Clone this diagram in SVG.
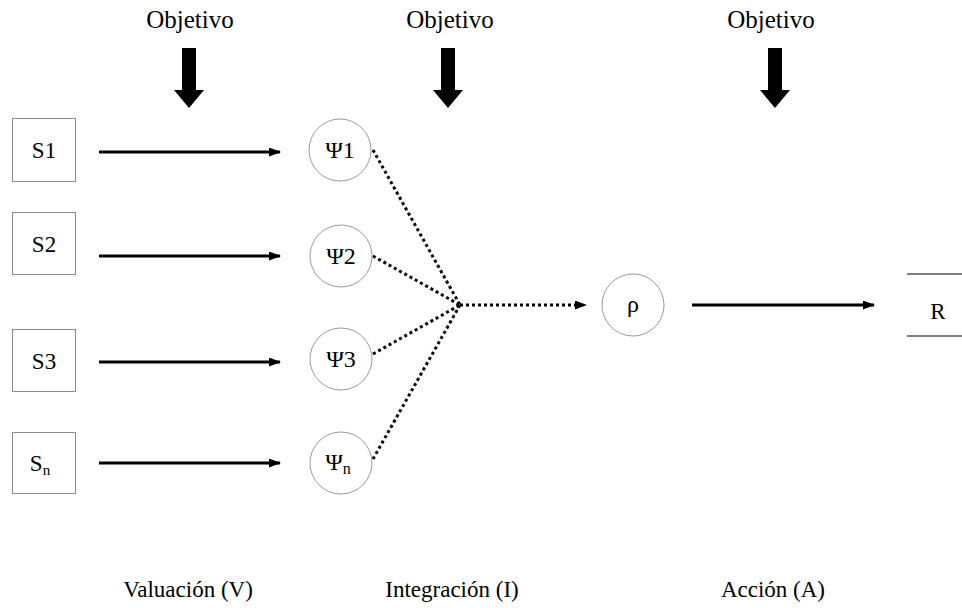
<svg xmlns="http://www.w3.org/2000/svg" width="962" height="608" viewBox="0 0 962 608">
<style>
.box{fill:#fff;stroke:#8a8a8a;stroke-width:1}
.circ{fill:#fff;stroke:#9a9a9a;stroke-width:1}
.solid{stroke:#000;stroke-width:3;fill:none}
.dot{stroke:#000;stroke-width:3;fill:none;stroke-dasharray:3 3}
.big{fill:#000}
</style>
<defs>
<marker id="ah" markerWidth="12" markerHeight="9" refX="11" refY="4.5" orient="auto" markerUnits="userSpaceOnUse">
<path d="M0,0 L12,4.5 L0,9 Z" fill="#000"/>
</marker>
</defs>
<rect width="962" height="608" fill="#fff"/>

<g font-family="'Liberation Serif', 'Times New Roman', serif" font-size="23" fill="#000">
<g id="objetivos" font-size="25">
<text x="190" y="28" text-anchor="middle">Objetivo</text>
<text x="450" y="28" text-anchor="middle">Objetivo</text>
<text x="771" y="28" text-anchor="middle">Objetivo</text>
<path class="big" d="M182,48 H196 V90 H204 L189,108 L174,90 H182 Z"/>
<path class="big" d="M441,48 H455 V90 H463 L448,108 L433,90 H441 Z"/>
<path class="big" d="M768,48 H782 V90 H790 L775,108 L760,90 H768 Z"/>
</g>

<g id="S1"><rect class="box" x="12.5" y="118.5" width="63" height="63"/><text x="44" y="158" text-anchor="middle">S1</text></g>
<g id="S2"><rect class="box" x="12.5" y="212.5" width="63" height="62"/><text x="44" y="252" text-anchor="middle">S2</text></g>
<g id="S3"><rect class="box" x="12.5" y="329.5" width="63" height="62"/><text x="44" y="369" text-anchor="middle">S3</text></g>
<g id="Sn"><rect class="box" x="12.5" y="432.5" width="63" height="61"/><text x="40" y="471" text-anchor="middle">S<tspan font-size="15" dy="4">n</tspan></text></g>

<g id="P1" font-size="24"><circle class="circ" cx="340" cy="150" r="31"/><text x="340" y="158" text-anchor="middle">Ψ1</text></g>
<g id="P2" font-size="24"><circle class="circ" cx="341" cy="256" r="31"/><text x="341" y="264" text-anchor="middle">Ψ2</text></g>
<g id="P3" font-size="24"><circle class="circ" cx="341" cy="359" r="31"/><text x="341" y="367" text-anchor="middle">Ψ3</text></g>
<g id="Pn" font-size="24"><circle class="circ" cx="341" cy="463" r="31"/><text x="338" y="470" text-anchor="middle">Ψ<tspan font-size="16" dy="4">n</tspan></text></g>

<g id="rho" font-size="24"><circle class="circ" cx="633" cy="305" r="31"/><text x="633" y="312" text-anchor="middle">ρ</text></g>

<g id="R"><line x1="907" y1="274" x2="962" y2="274" stroke="#000" stroke-width="1"/><line x1="907" y1="336" x2="962" y2="336" stroke="#000" stroke-width="1"/><text x="938" y="319" text-anchor="middle">R</text></g>

<g id="stages">
<text x="188" y="597" text-anchor="middle">Valuación (V)</text>
<text x="452" y="597" text-anchor="middle">Integración (I)</text>
<text x="773" y="597" text-anchor="middle">Acción (A)</text>
</g>
</g>

<g id="connectors">
<line class="solid" x1="99" y1="152" x2="280" y2="152" marker-end="url(#ah)"/>
<line class="solid" x1="99" y1="256" x2="280" y2="256" marker-end="url(#ah)"/>
<line class="solid" x1="99" y1="362" x2="280" y2="362" marker-end="url(#ah)"/>
<line class="solid" x1="99" y1="463" x2="280" y2="463" marker-end="url(#ah)"/>
<line class="dot" x1="373" y1="150" x2="460" y2="305"/>
<line class="dot" x1="373" y1="256" x2="460" y2="305"/>
<line class="dot" x1="373" y1="354" x2="460" y2="305"/>
<line class="dot" x1="373" y1="459" x2="460" y2="305"/>
<line class="dot" x1="460" y1="305" x2="586" y2="305" marker-end="url(#ah)"/>
<line class="solid" x1="692" y1="305" x2="874" y2="305" marker-end="url(#ah)"/>
</g>
</svg>
